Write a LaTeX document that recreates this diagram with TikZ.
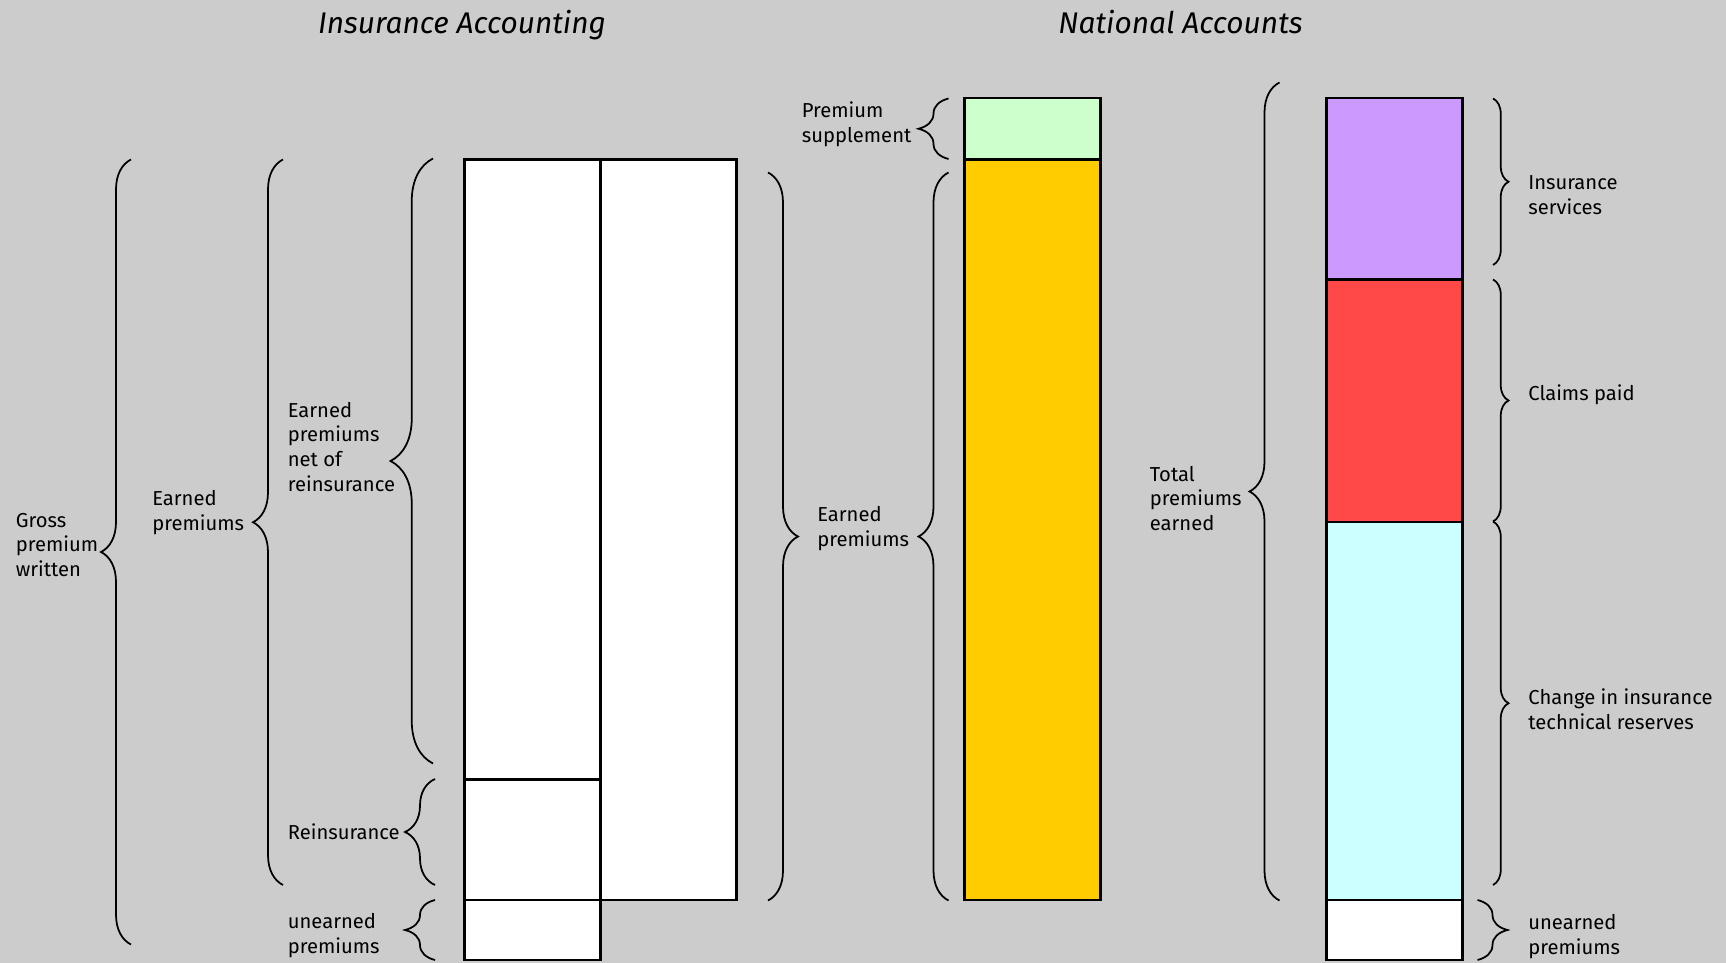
\documentclass[tikz,border=0pt]{standalone}
\usepackage{fontspec}
\setmainfont{Fira Sans}
\usetikzlibrary{decorations.pathreplacing}
\definecolor{bggray}{HTML}{CCCCCC}
\definecolor{suppgreen}{HTML}{CCFFCC}
\definecolor{earngold}{HTML}{FFCC00}
\definecolor{servpurple}{HTML}{CC99FF}
\definecolor{claimred}{HTML}{FF4848}
\definecolor{reservecyan}{HTML}{CCFFFF}
\tikzset{bar/.style = {draw, fill=white, line width=1.4pt, rectangle, anchor=north west, inner sep=0pt, outer sep=0pt, minimum width=2.72cm},
         curly/.style = {decorate, decoration={brace, amplitude=#1}, line width=1pt},
         curly/.default = 0.6cm,
         txt/.style = {anchor=west, align=left, inner sep=0pt, font=\fontsize{11.5}{14.2}\selectfont},
         heading/.style = {anchor=base, inner sep=0pt, font=\fontsize{17}{20}\selectfont\itshape}}

\begin{document}
\begin{tikzpicture}
    \path[use as bounding box, fill=bggray](0,0)rectangle(34.52,-19.26);

    \node[heading](insacc)at(9.24,-0.67){Insurance Accounting};
    \node[heading](natacc)at(23.61,-0.67){National Accounts};

    \node[bar,minimum height=12.40cm](boxnet)at(9.29,-3.19){};
    \node[bar,minimum height=2.41cm](boxrein)at(boxnet.south west){};
    \node[bar,minimum height=1.2cm](boxunA)at(boxrein.south west){};
    \node[bar,minimum height=14.81cm](boxearnA)at(boxnet.north east){};

    \node[bar,fill=suppgreen,minimum height=1.23cm](boxsupp)at(19.29,-1.96){};
    \node[bar,fill=earngold,minimum height=14.81cm](boxearnB)at(boxsupp.south west){};

    \node[bar,fill=servpurple,minimum height=3.63cm](boxserv)at(26.53,-1.96){};
    \node[bar,fill=claimred,minimum height=4.85cm](boxclaim)at(boxserv.south west){};
    \node[bar,fill=reservecyan,minimum height=7.56cm](boxchange)at(boxclaim.south west){};
    \node[bar,minimum height=1.2cm](boxunB)at(boxchange.south west){};

    \draw[curly](2.62,-18.89)--(2.62,-3.19);
    \draw[curly](5.66,-17.7)--(5.66,-3.19);
    \draw[curly=0.85cm](8.66,-15.27)--(8.66,-3.17);
    \draw[curly](8.7,-17.7)--(8.7,-15.58);
    \draw[curly](8.7,-19.2)--(8.7,-18.0);
    \draw[curly](15.36,-3.45)--(15.36,-18.01);

    \draw[curly](18.97,-3.18)--(18.97,-1.97);
    \draw[curly](18.97,-18.01)--(18.97,-3.45);
    \draw[curly](25.59,-18.01)--(25.59,-1.65);
    \draw[curly=0.31cm](29.86,-1.97)--(29.86,-5.3);
    \draw[curly=0.31cm](29.86,-5.59)--(29.86,-10.43);
    \draw[curly=0.31cm](29.86,-10.43)--(29.86,-17.7);
    \draw[curly](29.55,-18.0)--(29.55,-19.2);

    \node[txt](grosslbl)at(0.31,-10.9){Gross\\premium\\written};
    \node[txt](earnAlbl)at(3.04,-10.25){Earned\\premiums};
    \node[txt](netlbl)at(5.75,-8.94){Earned\\premiums\\net of\\reinsurance};
    \node[txt](reinlbl)at(5.75,-16.64){Reinsurance};
    \node[txt](unAlbl)at(5.75,-18.71){unearned\\premiums};
    \node[txt](earnlbl)at(16.34,-10.57){Earned\\premiums};
    \node[txt](supplbl)at(16.03,-2.48){Premium\\supplement};
    \node[txt](totallbl)at(22.99,-9.97){Total\\premiums\\earned};
    \node[txt](servlbl)at(30.56,-3.91){Insurance\\services};
    \node[txt](claimlbl)at(30.56,-7.89){Claims paid};
    \node[txt](changelbl)at(30.56,-14.19){Change in insurance\\technical reserves};
    \node[txt](unBlbl)at(30.56,-18.73){unearned\\premiums};
\end{tikzpicture}
\end{document}
